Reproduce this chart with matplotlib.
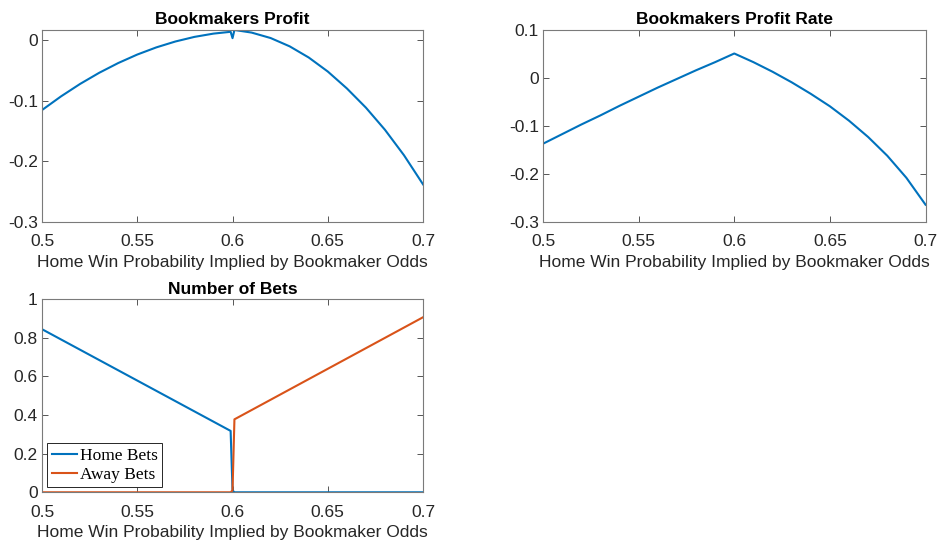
import numpy as np
import matplotlib
matplotlib.use('Agg')
import matplotlib.pyplot as plt

matplotlib.rcParams['font.family'] = ['Liberation Sans', 'DejaVu Sans']
matplotlib.rcParams['axes.unicode_minus'] = False

# values
odds = [0.50, 0.51, 0.52, 0.53, 0.54, 0.55, 0.56, 0.57, 0.58, 0.59, 0.599,
        0.600, 0.601, 0.61, 0.62, 0.63, 0.64, 0.65, 0.66, 0.67, 0.68, 0.69, 0.70]
profit = [-0.1155, -0.0929, -0.0724, -0.0541, -0.0380, -0.0240, -0.0122, -0.0025,
          0.0051, 0.0105, 0.0135, 0.0030, 0.0165, 0.0122, 0.0032, -0.0105, -0.0289,
          -0.0520, -0.0798, -0.1115, -0.1480, -0.1900, -0.2380]

rate_odds = [0.50, 0.51, 0.52, 0.53, 0.54, 0.55, 0.56, 0.57, 0.58, 0.59, 0.60,
             0.61, 0.62, 0.63, 0.64, 0.65, 0.66, 0.67, 0.68, 0.69, 0.70]
profit_rate = [-0.137, -0.117, -0.097, -0.078, -0.058, -0.039, -0.020, -0.002, 0.016,
               0.033, 0.051, 0.033, 0.013, -0.009, -0.033, -0.059, -0.089, -0.123,
               -0.162, -0.208, -0.264]

home_odds = [0.50, 0.599, 0.600, 0.601, 0.70]
home_bets = [0.845, 0.318, 0.010, 0.0, 0.0]
away_odds = [0.50, 0.599, 0.600, 0.601, 0.70]
away_bets = [0.0, 0.0, 0.010, 0.378, 0.907]

BLUE = '#0072BD'
ORANGE = '#D95319'
XTICKS = [0.5, 0.55, 0.6, 0.65, 0.7]
XLABEL = 'Home Win Probability Implied by Bookmaker Odds'


def style(ax, yticks, ylim, title):
    ax.set_xlim(0.5, 0.7)
    ax.set_ylim(*ylim)
    ax.set_xticks(XTICKS)
    ax.set_xticklabels(['0.5', '0.55', '0.6', '0.65', '0.7'])
    ax.set_yticks(yticks)
    ax.set_yticklabels([f'{v:g}' for v in yticks])
    ax.tick_params(direction='in', top=True, right=True, length=4, width=0.7,
                   labelsize=12.5, colors='#555555', labelcolor='#262626')
    ax.tick_params(axis='x', pad=9)
    ax.tick_params(axis='y', pad=3)
    for s in ax.spines.values():
        s.set_color('#7a7a7a')
        s.set_linewidth(0.8)
    ax.set_xlabel(XLABEL, fontsize=12.5, color='#262626', labelpad=4)
    ax.set_title(title, fontsize=12.5, fontweight='bold', pad=4)


fig = plt.figure(figsize=(9.38, 5.43), dpi=100)
ax1 = fig.add_axes([0.0448, 0.5912, 0.4062, 0.3536])
ax2 = fig.add_axes([0.5789, 0.5912, 0.4078, 0.3536])
ax3 = fig.add_axes([0.0448, 0.0934, 0.4062, 0.3554])

ax1.plot(odds, profit, color=BLUE, lw=1.5)
style(ax1, [-0.3, -0.2, -0.1, 0], (-0.3, 0.0165), 'Bookmakers Profit')

ax2.plot(rate_odds, profit_rate, color=BLUE, lw=1.5)
style(ax2, [-0.3, -0.2, -0.1, 0, 0.1], (-0.3, 0.1), 'Bookmakers Profit Rate')

ax3.plot(home_odds, home_bets, color=BLUE, lw=1.5, label='Home Bets')
ax3.plot(away_odds, away_bets, color=ORANGE, lw=1.5, label='Away Bets')
style(ax3, [0, 0.2, 0.4, 0.6, 0.8, 1], (0, 1), 'Number of Bets')
leg = ax3.legend(loc='lower left', fancybox=False, framealpha=1, edgecolor='#262626',
                 prop={'family': 'Liberation Serif', 'size': 12.5},
                 borderaxespad=0.3, borderpad=0.25, handlelength=1.45,
                 handletextpad=0.2, labelspacing=0.15)
leg.get_frame().set_linewidth(0.7)

fig.savefig('out.png', dpi=100)
